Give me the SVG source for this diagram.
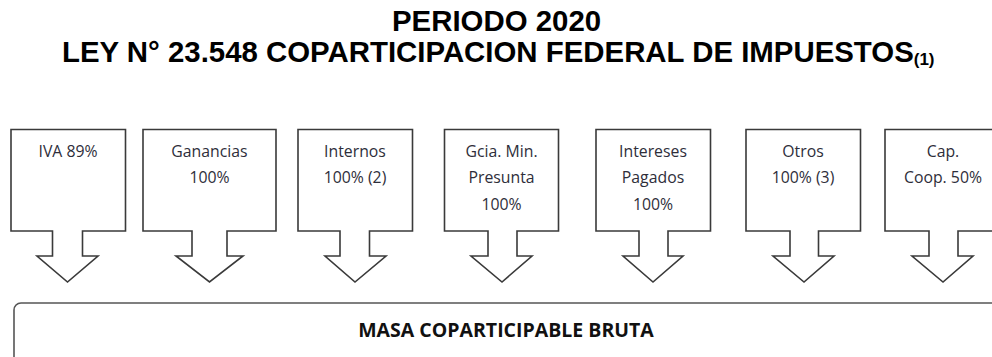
<svg xmlns="http://www.w3.org/2000/svg" width="992" height="357" viewBox="0 0 992 357">
<style>
.shape{fill:#fff;stroke:#3a3a3a;stroke-width:1.6;stroke-linejoin:miter}
.lbl{font-family:"Open Sans","Liberation Sans",sans-serif;font-size:15.8px;fill:#2e2e3a;text-anchor:middle}
.title{font-family:"Liberation Sans",Arial,sans-serif;font-weight:bold;font-size:29.4px;fill:#000}
.sub{font-size:17px}
.mass{font-family:"Open Sans","Liberation Sans",sans-serif;font-weight:bold;font-size:19.5px;fill:#111;text-anchor:middle}
.base{fill:#fff;stroke:#555;stroke-width:1.6}
</style>
<rect width="992" height="357" fill="#fff"/>
<g id="title">
<text class="title" x="392" y="31">PERIODO 2020</text>
<text class="title" x="62" y="62">LEY N° 23.548 COPARTICIPACION FEDERAL DE IMPUESTOS<tspan class="sub" dy="3">(1)</tspan></text>
</g>
<g id="node-iva">
<path class="shape" d="M11,129.5H125.5V231H82.5V256H98L67.5,282L37,256H52.5V231H11Z"/>
<text class="lbl" x="68" y="157">IVA 89%</text>
</g>
<g id="node-ganancias">
<path class="shape" d="M143,129.5H276V231H227V256H243L209.5,282L176,256H192V231H143Z"/>
<text class="lbl" x="209.5" y="157">Ganancias</text>
<text class="lbl" x="209.5" y="183">100%</text>
</g>
<g id="node-internos">
<path class="shape" d="M298,129.5H412.5V231H369.5V256H386L355,282L325,256H340V231H298Z"/>
<text class="lbl" x="355" y="157">Internos</text>
<text class="lbl" x="355" y="183">100% (2)</text>
</g>
<g id="node-gcia">
<path class="shape" d="M444.5,129.5H558.5V231H517V256H532L502,282L471,256H488V231H444.5Z"/>
<text class="lbl" x="501.5" y="157">Gcia. Min.</text>
<text class="lbl" x="501.5" y="183">Presunta</text>
<text class="lbl" x="501.5" y="210">100%</text>
</g>
<g id="node-intereses">
<path class="shape" d="M596,129.5H710.5V231H668V256H683L653,282L623,256H639V231H596Z"/>
<text class="lbl" x="653" y="157">Intereses</text>
<text class="lbl" x="653" y="183">Pagados</text>
<text class="lbl" x="653" y="210">100%</text>
</g>
<g id="node-otros">
<path class="shape" d="M746,129.5H860.5V231H818.5V256H834L804,282L773,256H790V231H746Z"/>
<text class="lbl" x="803" y="157">Otros</text>
<text class="lbl" x="803" y="183">100% (3)</text>
</g>
<g id="node-cap">
<path class="shape" d="M885,129.5H1000V231H958V256H973L943,282L912,256H929V231H885Z"/>
<text class="lbl" x="943" y="157">Cap.</text>
<text class="lbl" x="943" y="183">Coop. 50%</text>
</g>
<g id="node-masa">
<rect class="base" x="14" y="303" width="1000" height="80" rx="7" ry="7"/>
<text class="mass" x="506" y="337">MASA COPARTICIPABLE BRUTA</text>
</g>
</svg>
